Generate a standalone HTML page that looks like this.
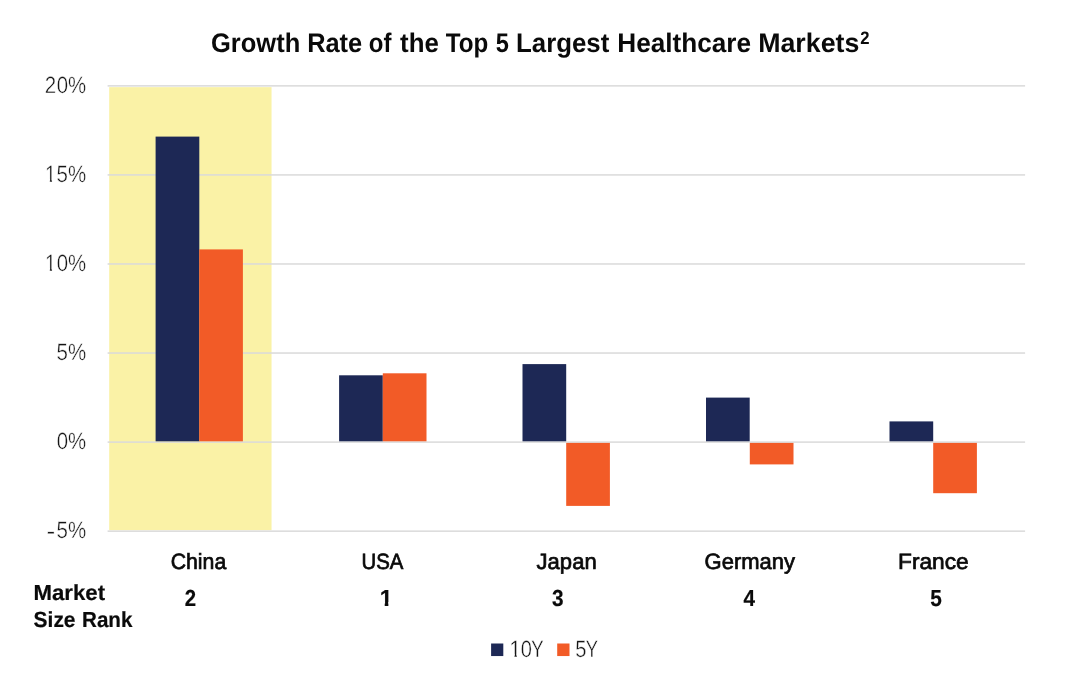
<!DOCTYPE html>
<html lang="en"><head><meta charset="utf-8"><title>Growth Rate of the Top 5 Largest Healthcare Markets</title>
<style>
html,body{margin:0;padding:0;background:#fff;}
body{width:1082px;height:696px;overflow:hidden;}
svg{display:block;}
text{font-family:"Liberation Sans",Arial,sans-serif;text-rendering:geometricPrecision;}
</style></head><body>
<svg width="1082" height="696" viewBox="0 0 1082 696" role="img" aria-label="Bar chart: growth rate of the top 5 largest healthcare markets">
<rect width="1082" height="696" fill="#fff"/>
<rect x="109.2" y="87.15" width="162.35" height="443.05" fill="#faf2a6"/>
<rect x="107.6" y="85.11" width="917.5" height="1.5" fill="#dadada"/>
<rect x="107.6" y="174.17" width="917.5" height="1.5" fill="#dadada"/>
<rect x="107.6" y="263.23" width="917.5" height="1.5" fill="#dadada"/>
<rect x="107.6" y="352.29" width="917.5" height="1.5" fill="#dadada"/>
<rect x="107.6" y="441.35" width="917.5" height="1.5" fill="#dadada"/>
<rect x="107.6" y="530.41" width="917.5" height="1.5" fill="#dadada"/>
<rect x="155.6" y="136.6" width="43.7" height="304.7" fill="#1d2855"/>
<rect x="199.2" y="249.4" width="43.7" height="191.9" fill="#f25b27"/>
<rect x="339.1" y="375.3" width="43.7" height="66.0" fill="#1d2855"/>
<rect x="382.8" y="373.3" width="43.7" height="68.0" fill="#f25b27"/>
<rect x="522.5" y="364.1" width="43.7" height="77.2" fill="#1d2855"/>
<rect x="566.2" y="442.9" width="43.7" height="63.0" fill="#f25b27"/>
<rect x="706.0" y="397.6" width="43.7" height="43.7" fill="#1d2855"/>
<rect x="749.8" y="442.9" width="43.7" height="21.5" fill="#f25b27"/>
<rect x="889.5" y="421.4" width="43.7" height="19.9" fill="#1d2855"/>
<rect x="933.2" y="442.9" width="43.7" height="50.3" fill="#f25b27"/>
<text y="51.70" font-size="26.8" font-weight="bold" fill="#0a0a0a"><tspan x="211.05" textLength="89.21" lengthAdjust="spacingAndGlyphs">Growth</tspan> <tspan x="307.14" textLength="55.06" lengthAdjust="spacingAndGlyphs">Rate</tspan> <tspan x="368.81" textLength="22.61" lengthAdjust="spacingAndGlyphs">of</tspan> <tspan x="400.06" textLength="38.76" lengthAdjust="spacingAndGlyphs">the</tspan> <tspan x="445.77" textLength="42.54" lengthAdjust="spacingAndGlyphs">Top</tspan> <tspan x="495.84" textLength="13.14" lengthAdjust="spacingAndGlyphs">5</tspan> <tspan x="516.01" textLength="93.29" lengthAdjust="spacingAndGlyphs">Largest</tspan> <tspan x="617.29" textLength="133.79" lengthAdjust="spacingAndGlyphs">Healthcare</tspan> <tspan x="758.15" textLength="101.19" lengthAdjust="spacingAndGlyphs">Markets</tspan><tspan x="860.14" y="44.00" font-size="18.0" textLength="9.27" lengthAdjust="spacingAndGlyphs">2</tspan></text>
<text y="93.06" font-size="23.5" font-weight="normal" fill="#151515" stroke="#fff" stroke-width="0.4"><tspan x="44.81" textLength="11.42" lengthAdjust="spacingAndGlyphs">2</tspan><tspan x="56.63" textLength="29.46" lengthAdjust="spacingAndGlyphs">0%</tspan></text>
<text y="182.12" font-size="23.5" font-weight="normal" fill="#151515" stroke="#fff" stroke-width="0.4"><tspan x="45.11" textLength="10.96" lengthAdjust="spacingAndGlyphs">1</tspan><tspan x="56.51" textLength="29.58" lengthAdjust="spacingAndGlyphs">5%</tspan></text>
<text y="271.18" font-size="23.5" font-weight="normal" fill="#151515" stroke="#fff" stroke-width="0.4"><tspan x="45.11" textLength="10.96" lengthAdjust="spacingAndGlyphs">1</tspan><tspan x="56.63" textLength="29.46" lengthAdjust="spacingAndGlyphs">0%</tspan></text>
<text y="360.24" font-size="23.5" font-weight="normal" fill="#151515" stroke="#fff" stroke-width="0.4"><tspan x="56.51" textLength="29.58" lengthAdjust="spacingAndGlyphs">5%</tspan></text>
<text y="449.30" font-size="23.5" font-weight="normal" fill="#151515" stroke="#fff" stroke-width="0.4"><tspan x="56.63" textLength="29.46" lengthAdjust="spacingAndGlyphs">0%</tspan></text>
<text y="538.36" font-size="23.5" font-weight="normal" fill="#151515" stroke="#fff" stroke-width="0.4"><tspan x="46.50" y="539.16" textLength="8.75" lengthAdjust="spacingAndGlyphs">-</tspan><tspan x="56.51" y="538.36" textLength="29.58" lengthAdjust="spacingAndGlyphs">5%</tspan></text>
<text y="568.80" font-size="22.1" font-weight="normal" fill="#0a0a0a" stroke="#0a0a0a" stroke-width="0.7"><tspan x="170.68" textLength="55.57" lengthAdjust="spacingAndGlyphs">China</tspan></text>
<text y="568.80" font-size="22.1" font-weight="normal" fill="#0a0a0a" stroke="#0a0a0a" stroke-width="0.7"><tspan x="361.55" textLength="41.89" lengthAdjust="spacingAndGlyphs">USA</tspan></text>
<text y="568.80" font-size="22.1" font-weight="normal" fill="#0a0a0a" stroke="#0a0a0a" stroke-width="0.7"><tspan x="536.60" textLength="60.05" lengthAdjust="spacingAndGlyphs">Japan</tspan></text>
<text y="568.80" font-size="22.1" font-weight="normal" fill="#0a0a0a" stroke="#0a0a0a" stroke-width="0.7"><tspan x="704.55" textLength="90.42" lengthAdjust="spacingAndGlyphs">Germany</tspan></text>
<text y="568.80" font-size="22.1" font-weight="normal" fill="#0a0a0a" stroke="#0a0a0a" stroke-width="0.7"><tspan x="898.06" textLength="70.63" lengthAdjust="spacingAndGlyphs">France</tspan></text>
<text y="599.90" font-size="21.8" font-weight="bold" fill="#0a0a0a" stroke="#0a0a0a" stroke-width="0.2"><tspan x="33.49" textLength="71.60" lengthAdjust="spacingAndGlyphs">Market</tspan> <tspan x="33.62" y="626.50" textLength="41.88" lengthAdjust="spacingAndGlyphs">Size</tspan> <tspan x="82.02" textLength="50.40" lengthAdjust="spacingAndGlyphs">Rank</tspan></text>
<text y="605.75" font-size="23.2" font-weight="bold" fill="#0a0a0a" stroke="#0a0a0a" stroke-width="0.2"><tspan x="184.84" textLength="11.34" lengthAdjust="spacingAndGlyphs">2</tspan></text>
<text y="605.75" font-size="23.2" font-weight="bold" fill="#0a0a0a" stroke="#0a0a0a" stroke-width="0.2"><tspan x="379.64" textLength="12.70" lengthAdjust="spacingAndGlyphs">1</tspan></text>
<text y="605.75" font-size="23.2" font-weight="bold" fill="#0a0a0a" stroke="#0a0a0a" stroke-width="0.2"><tspan x="552.02" textLength="11.57" lengthAdjust="spacingAndGlyphs">3</tspan></text>
<text y="605.75" font-size="23.2" font-weight="bold" fill="#0a0a0a" stroke="#0a0a0a" stroke-width="0.2"><tspan x="743.58" textLength="11.54" lengthAdjust="spacingAndGlyphs">4</tspan></text>
<text y="605.75" font-size="23.2" font-weight="bold" fill="#0a0a0a" stroke="#0a0a0a" stroke-width="0.2"><tspan x="930.33" textLength="11.57" lengthAdjust="spacingAndGlyphs">5</tspan></text>
<text y="656.90" font-size="23.5" font-weight="normal" fill="#151515" stroke="#fff" stroke-width="0.4"><tspan x="509.35" textLength="11.88" lengthAdjust="spacingAndGlyphs">1</tspan><tspan x="520.75" textLength="11.18" lengthAdjust="spacingAndGlyphs">0</tspan><tspan x="531.31" textLength="12.32" lengthAdjust="spacingAndGlyphs">Y</tspan></text>
<text y="656.90" font-size="23.5" font-weight="normal" fill="#151515" stroke="#fff" stroke-width="0.4"><tspan x="575.13" textLength="11.19" lengthAdjust="spacingAndGlyphs">5</tspan><tspan x="585.72" textLength="12.21" lengthAdjust="spacingAndGlyphs">Y</tspan></text>
<rect x="45.61" y="179.06" width="4.20" height="4.56" fill="#fff"/>
<rect x="52.05" y="179.06" width="4.05" height="4.56" fill="#fff"/>
<rect x="45.61" y="268.12" width="4.20" height="4.56" fill="#fff"/>
<rect x="52.05" y="268.12" width="4.05" height="4.56" fill="#fff"/>
<rect x="380.08" y="602.08" width="4.64" height="5.17" fill="#fff"/>
<rect x="388.35" y="602.08" width="4.35" height="5.17" fill="#fff"/>
<rect x="509.97" y="653.84" width="4.49" height="4.56" fill="#fff"/>
<rect x="516.85" y="653.84" width="4.32" height="4.56" fill="#fff"/>
<rect x="491.1" y="643.5" width="12.2" height="12.55" fill="#1d2855"/>
<rect x="557.2" y="643.5" width="12.3" height="12.55" fill="#f25b27"/>
</svg>
</body></html>
